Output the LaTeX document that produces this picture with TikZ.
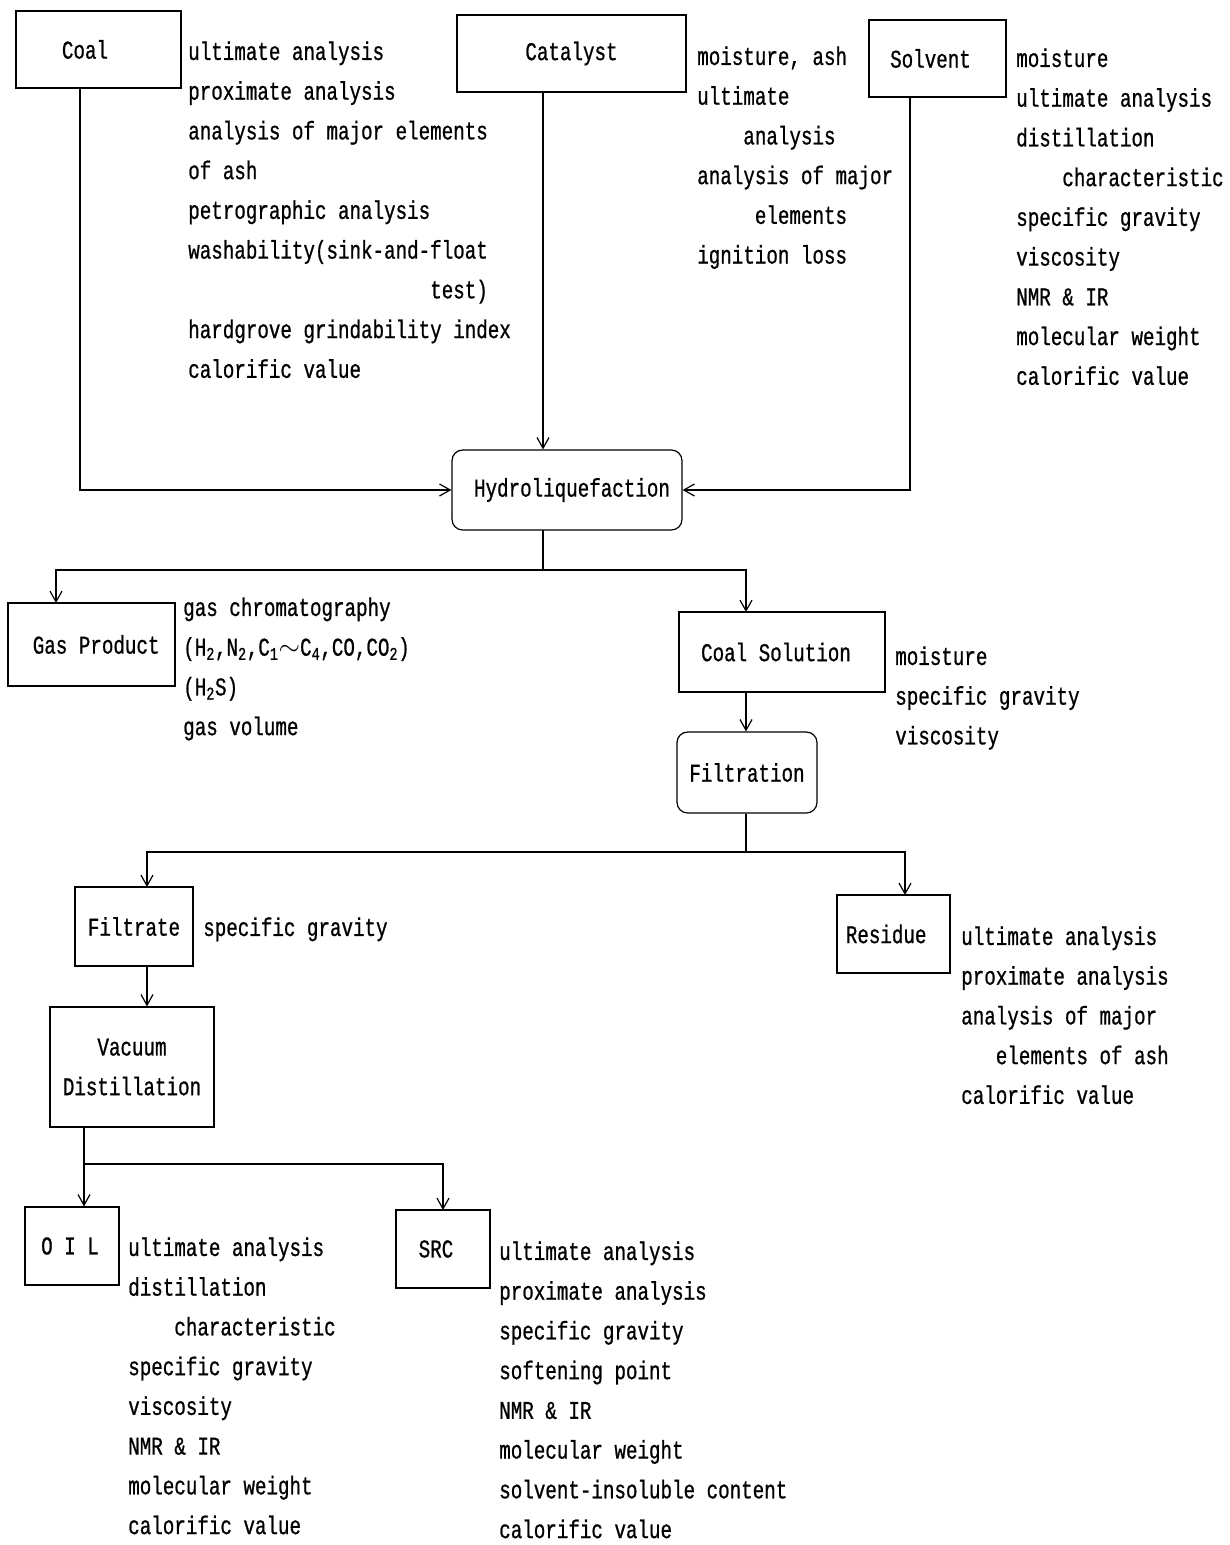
\documentclass[tikz,border=0pt]{standalone}
\usepackage{fontspec}
\setmainfont{Liberation Mono}[FakeStretch=0.75,FakeBold=0.8]
\usetikzlibrary{arrows.meta}
\begin{document}
\begin{tikzpicture}[x=0.75pt,y=-0.75pt,
  every node/.style={font=\fontsize{19.2}{29.8}\selectfont},
  box/.style={draw, line width=0.9pt, inner sep=0pt, align=center},
  rbox/.style={box, rounded corners=8pt},
  lst/.style={anchor=north west, inner sep=0pt, align=left},
  conn/.style={line width=0.9pt},
  arr/.style={conn, -{Straight Barb[length=8pt,width=9pt]}}]
\useasboundingbox (0,0) rectangle (1230,1545);

% boxes
\node[box, minimum width=123.75pt, minimum height=57.75pt] (coal) at (98.5,49.5) {Coal\hspace*{20.25pt}};
\node[box, minimum width=171.75pt, minimum height=57.75pt] (cat) at (571.5,53.5) {Catalyst};
\node[box, minimum width=102.75pt, minimum height=57.75pt] (solv) at (937.5,58.5) {Solvent\hspace*{10.5pt}};
\node[rbox, minimum width=172.5pt, minimum height=60pt] (hydro) at (567,490) {\hspace*{7.5pt}Hydroliquefaction};
\node[box, minimum width=125.25pt, minimum height=62.25pt] (gas) at (91.5,644.5) {\hspace*{7pt}Gas Product};
\node[box, minimum width=154.5pt, minimum height=60pt] (cs) at (782,652) {Coal Solution\hspace*{9pt}};
\node[rbox, minimum width=105pt, minimum height=60.75pt] (filt) at (747,772.5) {Filtration};
\node[box, minimum width=88.5pt, minimum height=59.25pt] (fte) at (134,926.5) {Filtrate};
\node[box, minimum width=84.75pt, minimum height=58.5pt] (res) at (893.5,934) {Residue\hspace*{11pt}};
\node[box, minimum width=123pt, minimum height=90pt] (vac) at (132,1067) {Vacuum\\Distillation};
\node[box, minimum width=70.5pt, minimum height=58.5pt] (oil) at (72,1246) {O I L\hspace*{3pt}};
\node[box, minimum width=70.5pt, minimum height=58.5pt] (src) at (443,1249) {SRC\hspace*{10.5pt}};

% lists
\node[lst] (coalL) at (188,37) {\rule{0pt}{17pt}ultimate analysis\\
proximate analysis\\
analysis of major elements\\
of ash\\
petrographic analysis\\
washability(sink-and-float\\
\hphantom{000000000000000000000}test)\\
hardgrove grindability index\\
calorific value};

\node[lst] (catL) at (697,42) {\rule{0pt}{17pt}moisture, ash\\
ultimate\\
\hphantom{0000}analysis\\
analysis of major\\
\hphantom{00000}elements\\
ignition loss};

\node[lst] (solvL) at (1016,44) {\rule{0pt}{17pt}moisture\\
ultimate analysis\\
distillation\\
\hphantom{0000}characteristic\\
specific gravity\\
viscosity\\
NMR \& IR\\
molecular weight\\
calorific value};

\node[lst] (gasL) at (183,593) {\rule{0pt}{17pt}gas chromatography\\
(H\textsubscript{2},N\textsubscript{2},C\textsubscript{1}$\sim$C\textsubscript{4},CO,CO\textsubscript{2})\\
(H\textsubscript{2}S)\\
gas volume};

\node[lst] (csL) at (895,642) {\rule{0pt}{17pt}moisture\\
specific gravity\\
viscosity};

\node[lst] (fteL) at (203,913) {\rule{0pt}{17pt}specific gravity};

\node[lst] (resL) at (961,922) {\rule{0pt}{17pt}ultimate analysis\\
proximate analysis\\
analysis of major\\
\hphantom{000}elements of ash\\
calorific value};

\node[lst] (oilL) at (128,1233) {\rule{0pt}{17pt}ultimate analysis\\
distillation\\
\hphantom{0000}characteristic\\
specific gravity\\
viscosity\\
NMR \& IR\\
molecular weight\\
calorific value};

\node[lst] (srcL) at (499,1237) {\rule{0pt}{17pt}ultimate analysis\\
proximate analysis\\
specific gravity\\
softening point\\
NMR \& IR\\
molecular weight\\
solvent-insoluble content\\
calorific value};

% connectors
\coordinate (coalD) at (80,88);
\draw[arr] (coalD) |- (hydro.west);
\coordinate (catD) at (543,92);
\draw[arr] (catD) -- (catD |- hydro.north);
\coordinate (solD) at (910,97);
\draw[arr] (solD) |- (hydro.east);

\coordinate (hydD) at (543,530);
\coordinate (j1) at (543,570);
\draw[conn] (hydD) -- (j1);
\coordinate (gasT) at (56,603);
\draw[arr] (j1) -| (gasT);
\coordinate (csT) at (746,612);
\draw[arr] (j1) -| (csT);

\coordinate (csB) at (746,692);
\draw[arr] (csB) -- (csB |- filt.north);

\coordinate (j2) at (746,852);
\draw[conn] (j2 |- filt.south) -- (j2);
\coordinate (fteT) at (147,887);
\draw[arr] (j2) -| (fteT);
\coordinate (resT) at (905,895);
\draw[arr] (j2) -| (resT);

\coordinate (fteB) at (147,966);
\draw[arr] (fteB) -- (fteB |- vac.north);

\coordinate (vacB) at (84,1127);
\coordinate (j3) at (84,1164);
\draw[arr] (vacB) -- (vacB |- oil.north);
\coordinate (srcT) at (443,1210);
\draw[arr] (j3) -| (srcT);
\end{tikzpicture}
\end{document}
